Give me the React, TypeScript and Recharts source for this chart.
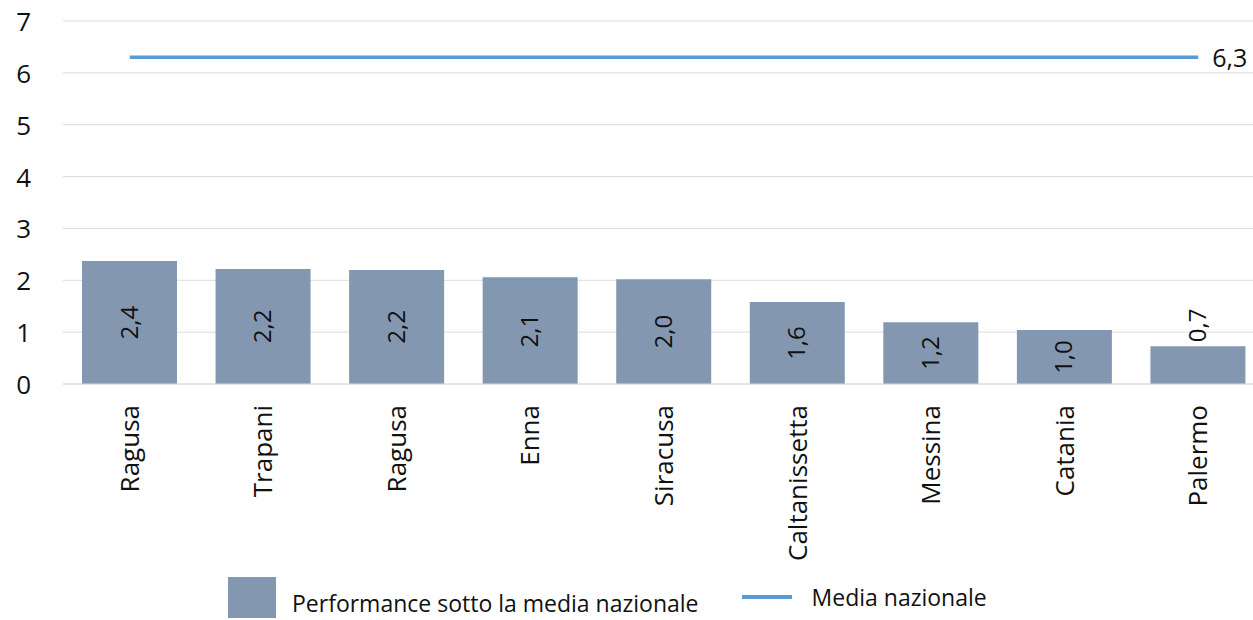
import React from 'react';
import { ComposedChart, Bar, Line, XAxis, YAxis, CartesianGrid, LabelList } from 'recharts';

const province = ['Ragusa', 'Trapani', 'Ragusa', 'Enna', 'Siracusa', 'Caltanissetta', 'Messina', 'Catania', 'Palermo'];
const performance = [2.37, 2.22, 2.2, 2.06, 2.02, 1.58, 1.19, 1.04, 0.73];
const mediaNazionale = [6.3, 6.3, 6.3, 6.3, 6.3, 6.3, 6.3, 6.3, 6.3];
const yTicks = [0, 1, 2, 3, 4, 5, 6, 7];

const data = province.map((p, i) => ({ name: p, perf: performance[i], media: mediaNazionale[i] }));

const FONT = '"Open Sans", sans-serif';
const BAR_COLOR = '#8497b0';
const LINE_COLOR = '#5b9bd5';

const fmt = (v: number) => v.toFixed(1).replace('.', ',');

const XTick = (props: any) => {
    const { x, y, payload } = props;
    return (
        <text
            transform={`translate(${x + 9},${y + 13}) rotate(-90)`}
            textAnchor="end"
            fontFamily={FONT}
            fontSize={26}
            fill="#111"
        >
            {payload.value}
        </text>
    );
};

const YTick = (props: any) => {
    const { y, payload } = props;
    return (
        <text x={31} y={y} textAnchor="end" dominantBaseline="central" fontFamily={FONT} fontSize={26} fill="#111">
            {payload.value}
        </text>
    );
};

const BarLabel = (props: any) => {
    const { x, y, width, height, value } = props;
    const cx = x + width / 2;
    const inside = height > 50;
    // centered inside the bar, or just above it when the bar is too short
    const ty = inside ? y + height / 2 : y - 4;
    return (
        <text
            transform={`translate(${cx + 8},${ty}) rotate(-90)`}
            textAnchor={inside ? 'middle' : 'start'}
            fontFamily={FONT}
            fontSize={24}
            fill="#111"
        >
            {fmt(value)}
        </text>
    );
};

const LineLabel = (props: any) => {
    const { x, y, value, index } = props;
    if (index !== province.length - 1) return null;
    return (
        <text x={x + 14} y={y} dominantBaseline="central" fontFamily={FONT} fontSize={25} fill="#111">
            {fmt(value)}
        </text>
    );
};

export default function App() {
    return (
        <div style={{ position: 'absolute', left: 0, top: 0, width: 1253, height: 620, overflow: 'hidden', background: '#fff' }}>
            <ComposedChart
                width={1270}
                height={620}
                data={data}
                margin={{ top: 21, right: 5, left: 0, bottom: 0 }}
                barSize={95}
            >
                <CartesianGrid vertical={false} stroke="#dcdcdc" />
                <XAxis
                    dataKey="name"
                    height={236}
                    interval={0}
                    tickLine={false}
                    axisLine={{ stroke: '#dcdcdc' }}
                    tick={<XTick />}
                />
                <YAxis
                    width={63}
                    domain={[0, 7]}
                    ticks={yTicks}
                    interval={0}
                    axisLine={false}
                    tickLine={false}
                    tick={<YTick />}
                />
                <Bar dataKey="perf" fill={BAR_COLOR} isAnimationActive={false}>
                    <LabelList dataKey="perf" content={<BarLabel />} />
                </Bar>
                <Line
                    dataKey="media"
                    stroke={LINE_COLOR}
                    strokeWidth={3.5}
                    dot={false}
                    activeDot={false}
                    isAnimationActive={false}
                >
                    <LabelList dataKey="media" content={<LineLabel />} />
                </Line>
            </ComposedChart>
            <div
                style={{
                    position: 'absolute',
                    top: 577,
                    left: 228,
                    display: 'flex',
                    alignItems: 'flex-end',
                    fontFamily: FONT,
                    fontSize: 23,
                    color: '#111',
                }}
            >
                <div style={{ width: 48, height: 41, background: BAR_COLOR }} />
                <span style={{ marginLeft: 16, lineHeight: '26px', marginBottom: 2 }}>Performance sotto la media nazionale</span>
                <div style={{ width: 50, height: 4, background: LINE_COLOR, marginLeft: 43, marginBottom: 19 }} />
                <span style={{ marginLeft: 20, lineHeight: '26px', marginBottom: 8 }}>Media nazionale</span>
            </div>
        </div>
    );
}
